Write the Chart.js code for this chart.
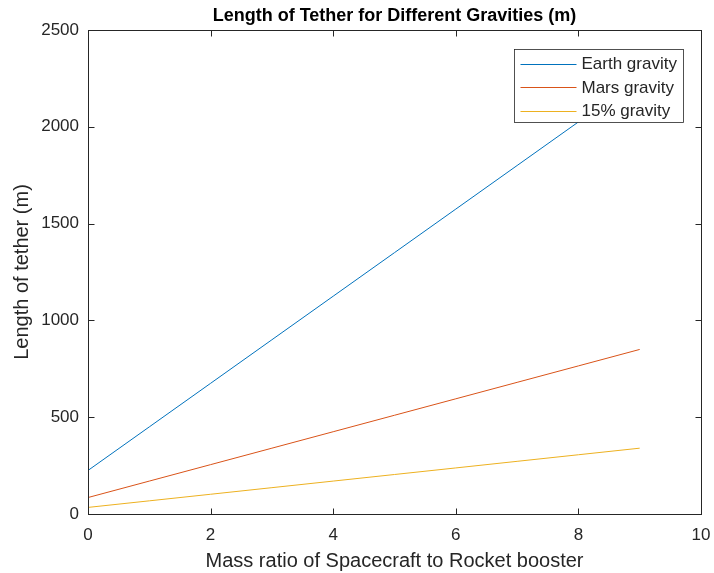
<!DOCTYPE html>
<html>
<head>
<meta charset="utf-8">
<script src="https://cdn.jsdelivr.net/npm/chart.js@4"></script>
<style>
html,body{margin:0;padding:0;background:#fff;}
#wrap{width:714px;height:573px;}
</style>
</head>
<body>
<div id="wrap"><canvas id="c" width="714" height="573"></canvas></div>
<script>
const massRatio = [0, 1, 2, 3, 4, 5, 6, 7, 8, 9];
const earthGravity = [225, 450, 675, 900, 1125, 1350, 1575, 1800, 2025, 2250];
const marsGravity = [85, 170, 255, 340, 425, 510, 595, 680, 765, 850];
const pct15Gravity = [34, 68, 102, 136, 170, 204, 238, 272, 306, 340];
const seriesNames = ['Earth gravity', 'Mars gravity', '15% gravity'];
const seriesColors = ['#0072BD', '#D95319', '#EDB120'];
const xTicks = [0, 2, 4, 6, 8, 10];
const yTicks = [0, 500, 1000, 1500, 2000, 2500];

const FONT = "'Liberation Sans', Arial, Helvetica, sans-serif";
const TXT = '#262626';

function pts(ys){ return massRatio.map((x,i)=>({x:x, y:ys[i]})); }

const datasets = [earthGravity, marsGravity, pct15Gravity].map((ys,i)=>({
  label: seriesNames[i],
  data: pts(ys),
  borderColor: seriesColors[i],
  backgroundColor: seriesColors[i],
  borderWidth: 1,
  pointRadius: 0,
  fill: false,
  tension: 0
}));

const boxPlugin = {
  id: 'matlabBox',
  afterDatasetsDraw(chart){
    const ctx = chart.ctx;
    const a = chart.chartArea;
    const xs = chart.scales.x, ys = chart.scales.y;
    ctx.save();
    ctx.strokeStyle = TXT;
    ctx.lineWidth = 1;
    const L = Math.round(a.left)+0.5, R = Math.round(a.right)+0.5, T = Math.round(a.top)+0.5, B = Math.round(a.bottom)+0.5;
    ctx.strokeRect(L, T, R-L, B-T);
    const tl = 6;
    ctx.beginPath();
    xTicks.forEach(v=>{
      const px = Math.round(xs.getPixelForValue(v))+0.5;
      ctx.moveTo(px, B); ctx.lineTo(px, B-tl);
      ctx.moveTo(px, T); ctx.lineTo(px, T+tl);
    });
    yTicks.forEach(v=>{
      const py = Math.round(ys.getPixelForValue(v))+0.5;
      ctx.moveTo(L, py); ctx.lineTo(L+tl, py);
      ctx.moveTo(R, py); ctx.lineTo(R-tl, py);
    });
    ctx.stroke();

    // legend
    ctx.font = '17px ' + FONT;
    let maxW = 0;
    seriesNames.forEach(n=>{ maxW = Math.max(maxW, ctx.measureText(n).width); });
    const lineLen = 56, pad = 6, gap = 5, rowH = 23.5;
    const w = Math.round(pad + lineLen + gap + maxW + 7);
    const h = 73;
    const bx = Math.round(a.right - 18 - w) + 0.5;
    const by = Math.round(a.top + 19) + 0.5;
    ctx.fillStyle = '#fff';
    ctx.fillRect(bx, by, w, h);
    ctx.strokeStyle = TXT;
    ctx.lineWidth = 0.8;
    ctx.strokeRect(bx, by, w, h);
    seriesNames.forEach((n,i)=>{
      const cy = by + 14 + i*rowH;
      ctx.strokeStyle = seriesColors[i];
      ctx.lineWidth = 1;
      ctx.beginPath();
      ctx.moveTo(bx + pad, Math.round(cy)+0.5);
      ctx.lineTo(bx + pad + lineLen, Math.round(cy)+0.5);
      ctx.stroke();
      ctx.fillStyle = TXT;
      ctx.textAlign = 'left';
      ctx.textBaseline = 'middle';
      ctx.fillText(n, bx + pad + lineLen + gap, cy + 1);
    });
    ctx.restore();
  }
};

new Chart(document.getElementById('c'), {
  type: 'line',
  data: { datasets: datasets },
  options: {
    responsive: false,
    animation: false,
    devicePixelRatio: 1,
    layout: { padding: { left: 0, right: 13, top: 0, bottom: 0 } },
    plugins: {
      legend: { display: false },
      tooltip: { enabled: false },
      title: {
        display: true,
        text: 'Length of Tether for Different Gravities (m)',
        color: '#000',
        font: { family: FONT, size: 18, weight: 'bold' },
        padding: { top: 5, bottom: 3.4 },
        fullSize: false
      }
    },
    scales: {
      x: {
        type: 'linear',
        min: 0, max: 10,
        afterBuildTicks(s){ s.ticks = xTicks.map(v=>({value:v})); },
        afterFit(s){ s.height = 59; s.paddingRight = 0; s.paddingLeft = 0; },
        grid: { display: false, drawTicks: false },
        border: { display: false },
        ticks: { color: TXT, font: { family: FONT, size: 17 }, padding: 11, maxRotation: 0,
                 callback: v => String(v) },
        title: { display: true, text: 'Mass ratio of Spacecraft to Rocket booster', color: TXT,
                 font: { family: FONT, size: 20 }, padding: { top: 0, bottom: 0 } }
      },
      y: {
        type: 'linear',
        min: 0, max: 2500,
        afterBuildTicks(s){ s.ticks = yTicks.map(v=>({value:v})); },
        afterFit(s){ s.width = 88; s.paddingTop = 0; s.paddingBottom = 0; },
        grid: { display: false, drawTicks: false },
        border: { display: false },
        ticks: { color: TXT, font: { family: FONT, size: 17 }, padding: 9,
                 callback: v => String(v) },
        title: { display: true, text: 'Length of tether (m)', color: TXT,
                 font: { family: FONT, size: 20 }, padding: { top: 10, bottom: 0 } }
      }
    }
  },
  plugins: [boxPlugin]
});
</script>
</body>
</html>
